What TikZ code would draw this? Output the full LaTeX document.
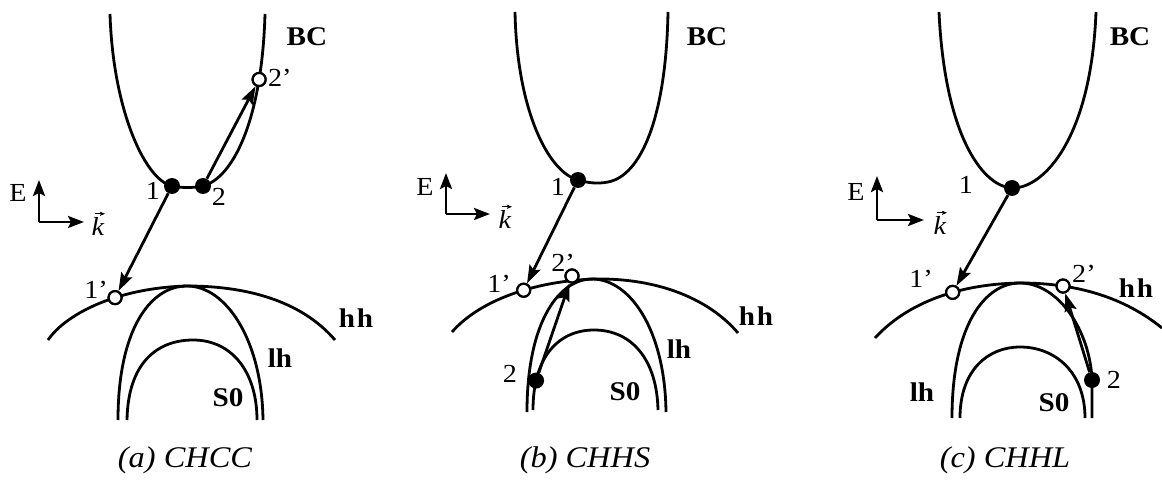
\documentclass[tikz,border=0pt]{standalone}
\usepackage{fontspec}
\setmainfont{Liberation Serif}[FakeStretch=1.08]
\usetikzlibrary{arrows.meta}
\tikzset{
  band/.style={line width=2.8pt},
  fdot/.style={circle, fill=black, inner sep=0pt, minimum size=16pt},
  odot/.style={circle, draw, line width=2.2pt, fill=white, inner sep=0pt, minimum size=13pt},
  arr/.style={line width=2.8pt, -{Stealth[length=18pt,width=12pt,inset=3pt]}},
  axarr/.style={line width=2.8pt, -{Stealth[length=16pt,width=12pt,inset=3pt]}},
  vecarr/.style={line width=1.1pt, -{Stealth[length=5pt,width=4pt,inset=1pt]}},
  lbl/.style={font=\fontsize{26}{26}\selectfont, inner sep=0pt},
  blbl/.style={font=\fontsize{27}{27}\selectfont\bfseries, inner sep=0pt},
  captxt/.style={font=\fontsize{30}{30}\selectfont\itshape, inner sep=0pt}
}
\begin{document}
\begin{tikzpicture}[x=1pt,y=-1pt]
\useasboundingbox (0,0) rectangle (1162,481);
% ================= panel (a) =================
\draw[band] (110,14) .. controls (113,110) and (145,180) .. (172,186)
  .. controls (181,188) and (194,188) .. (203,186)
  .. controls (233,178) and (262,120) .. (265,14) coordinate[pos=0.77] (pa2p);
\draw[band] (48,340) .. controls (65,315) and (115,288) .. (187,286) coordinate[pos=0.62] (pa1p)
  .. controls (255,286) and (305,305) .. (335,340);
\draw[band] (118,420) .. controls (118,330) and (150,286) .. (187,286)
  .. controls (226,286) and (262,340) .. (263,420);
\draw[band] (127,420) .. controls (128,362) and (158,340) .. (193,340)
  .. controls (232,340) and (257,372) .. (257,420);
\node[odot] (a1p) at (pa1p) {};
\node[odot] (a2p) at (pa2p) {};
\node[fdot] (a1) at (172,186) {};
\node[fdot] (a2) at (203,186) {};
\draw[arr] (a1) -- (a1p);
\draw[arr] (a2) -- (a2p);
\node[odot] at (pa1p) {};
\node[odot] at (pa2p) {};
\node[lbl] (la1) at (153,191) {1};
\node[lbl] (la2) at (219,197) {2};
\node[lbl] (la1p) at (96,290) {1’};
\node[lbl, anchor=west] (la2p) at (268,78) {2’};
\node[blbl] (lBCa) at (307,37) {BC};
\node[blbl] (lhha) at (356,318) {h\kern2pt h};
\node[blbl] (llha) at (280,358) {lh};
\node[blbl] (lSa) at (228,398) {S0};
\coordinate (ao) at (39,222);
\coordinate (aE) at (39,180);
\coordinate (aK) at (84,222);
\draw[axarr] (ao) -- (aE);
\draw[axarr] (ao) -- (aK);
\node[lbl] (Ea) at (18,193) {E};
\node[lbl] (ka) at (98,226) {\textit{k}};
\draw[vecarr] ([xshift=-3pt,yshift=3pt]ka.north) -- ([xshift=7pt,yshift=3pt]ka.north);
\node[captxt] (capa) at (185,460) {(a) CHCC};
% ================= panel (b) =================
\draw[band] (515,12) .. controls (517,110) and (548,172) .. (578,180)
  .. controls (588,183) and (598,184) .. (608,182)
  .. controls (640,176) and (666,120) .. (668,12);
\draw[band] (452,332) .. controls (480,300) and (535,281) .. (595,279) coordinate[pos=0.58] (pb1p)
  .. controls (660,278) and (710,300) .. (738,333);
\draw[band] (527,412) .. controls (527,320) and (560,279) .. (592,279)
  .. controls (630,279) and (665,330) .. (666,412);
\draw[band] (533,410) .. controls (533,355) and (560,330) .. (594,330) coordinate[pos=0.2] (pb2)
  .. controls (632,330) and (657,360) .. (658,410);
\node[odot] (b1p) at (pb1p) {};
\node[odot] (b2p) at (572,276) {};
\node[fdot] (b1) at (578,180) {};
\node[fdot] (b2) at (pb2) {};
\draw[arr] (b1) -- (b1p);
\draw[arr] (b2) -- (b2p);
\node[odot] at (pb1p) {};
\node[odot] at (572,276) {};
\node[lbl] (lb1) at (558,187) {1};
\node[lbl] (lb2) at (510,374) {2};
\node[lbl] (lb1p) at (499,284) {1’};
\node[lbl] (lb2p) at (563,263) {2’};
\node[blbl] (lBCb) at (707,37) {BC};
\node[blbl] (lhhb) at (756,316) {h\kern2pt h};
\node[blbl] (llhb) at (679,349) {lh};
\node[blbl] (lSb) at (625,392) {S0};
\coordinate (bo) at (446,214);
\coordinate (bE) at (446,173);
\coordinate (bK) at (490,214);
\draw[axarr] (bo) -- (bE);
\draw[axarr] (bo) -- (bK);
\node[lbl] (Eb) at (425,187) {E};
\node[lbl] (kb) at (505,219) {\textit{k}};
\draw[vecarr] ([xshift=-3pt,yshift=3pt]kb.north) -- ([xshift=7pt,yshift=3pt]kb.north);
\node[captxt] (capb) at (585,460) {(b) CHHS};
% ================= panel (c) =================
\draw[band] (939,12) .. controls (945,140) and (985,188) .. (1013,188)
  .. controls (1043,188) and (1091,140) .. (1096,12);
\draw[band] (875,338) .. controls (905,305) and (955,284) .. (1020,283) coordinate[pos=0.62] (pc1p)
  .. controls (1078,283) and (1125,298) .. (1162,328) coordinate[pos=0.26] (pc2p);
\draw[band] (952,418) .. controls (952,325) and (985,283) .. (1020,283)
  .. controls (1058,283) and (1090,330) .. (1092,380) coordinate (pc2) -- (1092,418);
\draw[band] (960,418) .. controls (960,370) and (988,347) .. (1020,347)
  .. controls (1055,347) and (1085,372) .. (1085,418);
\node[odot] (c1p) at (pc1p) {};
\node[odot] (c2p) at (pc2p) {};
\node[fdot] (c1) at (1012,188) {};
\node[fdot] (c2) at (pc2) {};
\draw[arr] (c1) -- (c1p);
\draw[arr] (c2) -- (c2p);
\node[odot] at (pc1p) {};
\node[odot] at (pc2p) {};
\node[lbl] (lc1) at (966,185) {1};
\node[lbl] (lc2) at (1114,380) {2};
\node[lbl] (lc1p) at (921,279) {1’};
\node[lbl, anchor=west] (lc2p) at (1072,274) {2’};
\node[blbl] (lBCc) at (1130,37) {BC};
\node[blbl] (lhhc) at (1136,288) {h\kern2pt h};
\node[blbl] (llhc) at (922,392) {lh};
\node[blbl] (lSc) at (1054,403) {S0};
\coordinate (co) at (877,220);
\coordinate (cE) at (877,176);
\coordinate (cK) at (924,220);
\draw[axarr] (co) -- (cE);
\draw[axarr] (co) -- (cK);
\node[lbl] (Ec) at (856,192) {E};
\node[lbl] (kc) at (940,225) {\textit{k}};
\draw[vecarr] ([xshift=-3pt,yshift=3pt]kc.north) -- ([xshift=7pt,yshift=3pt]kc.north);
\node[captxt] (capc) at (1005,460) {(c) CHHL};
\end{tikzpicture}
\end{document}
